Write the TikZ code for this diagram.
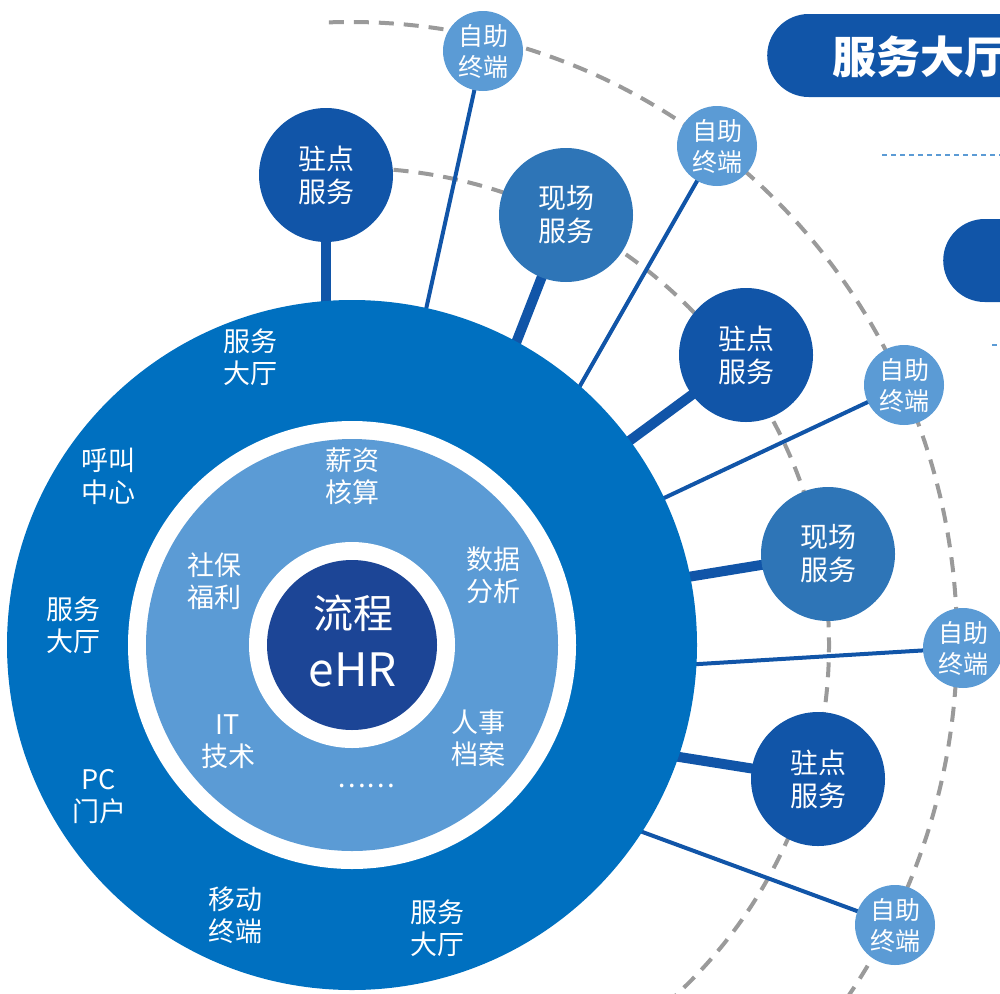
\documentclass[tikz,border=0pt]{standalone}
\usepackage{fontspec}
\setmainfont{Noto Sans CJK SC}
\usetikzlibrary{backgrounds}
\definecolor{cMain}{HTML}{0070C0}
\definecolor{cLight}{HTML}{5B9BD5}
\definecolor{cCore}{HTML}{1C4596}
\definecolor{cDark}{HTML}{1155A8}
\definecolor{cMid}{HTML}{2E75B7}
\definecolor{cGray}{HTML}{9A9A9A}
\begin{document}
\begin{tikzpicture}[x=1pt,y=-1pt,
  lbl/.style={text=white, align=center, font=\fontsize{27}{32}\selectfont, inner sep=0pt},
  disc/.style={circle, inner sep=0pt, draw=none},
  sat/.style={disc, minimum size=134pt, text=white, align=center, font=\fontsize{28}{33}\selectfont},
  zhudian/.style={sat, fill=cDark},
  xianchang/.style={sat, fill=cMid},
  zizhu/.style={disc, fill=cLight, minimum size=80pt, text=white, align=center, font=\fontsize{25}{31}\selectfont},
  thickconn/.style={draw=cDark, line width=10pt},
  thinconn/.style={draw=cDark, line width=4pt},
  arcdash/.style={draw=cGray, line width=4pt, dash pattern=on 15pt off 10pt},
  pill/.style={fill=cDark, rounded corners=41.5pt, minimum height=83pt, inner sep=0pt},
]
\useasboundingbox (0,0) rectangle (1000,993);
\clip (0,0) rectangle (1000,993);

% main rings
\node[disc, fill=cMain, minimum size=690pt] (main) at (352,645) {};
\node[disc, fill=white, minimum size=448pt] (ring1) at (352,645) {};
\node[disc, fill=cLight, minimum size=412pt] (inner) at (352,645) {};
\node[disc, fill=white, minimum size=206pt] (ring2) at (352,645) {};
\node[disc, fill=cCore, minimum size=170pt] (core) at (352,645) {};

\node[text=white, font=\fontsize{40}{40}\selectfont, inner sep=0pt] (liucheng) at (353,613) {流程};
\node[text=white, font=\fontsize{46}{46}\selectfont, inner sep=0pt] (ehr) at (353,670) {eHR};

% inner labels
\node[lbl] (xinzi) at (352,476) {薪资\\核算};
\node[lbl] (shuju) at (493,575) {数据\\分析};
\node[lbl] (renshi) at (478,738) {人事\\档案};
\node[lbl] (dots) at (366,786) {……};
\node[lbl] (it) at (228,742) {IT\\技术};
\node[lbl] (shebao) at (214,581) {社保\\福利};

% outer ring labels
\node[lbl] (dt1) at (250,357) {服务\\大厅};
\node[lbl] (hujiao) at (108,476) {呼叫\\中心};
\node[lbl] (dt2) at (73,625) {服务\\大厅};
\node[lbl] (pc) at (99,797) {PC\\门户};
\node[lbl] (yidong) at (235,915) {移动\\终端};
\node[lbl] (dt3) at (437,928) {服务\\大厅};

% satellites
\node[zhudian] (zd1) at (326,175) {驻点\\服务};
\node[zizhu] (zz1) at (483,51) {自助\\终端};
\node[xianchang] (xc1) at (566,215) {现场\\服务};
\node[zizhu] (zz2) at (717,146) {自助\\终端};
\node[zhudian] (zd2) at (746,355) {驻点\\服务};
\node[zizhu] (zz3) at (904,385) {自助\\终端};
\node[xianchang] (xc2) at (828,554) {现场\\服务};
\node[zizhu] (zz4) at (963,648) {自助\\终端};
\node[zhudian] (zd3) at (818,779) {驻点\\服务};
\node[zizhu] (zz5) at (895,925) {自助\\终端};

% connector targets
\coordinate (t1) at (326,645);
\coordinate (t3) at (398,645);
\coordinate (t4) at (432,645);
\coordinate (t7) at (352,632);
\coordinate (t8) at (352,685);
\coordinate (t9) at (352,705);
\coordinate (t10) at (352,725);

\begin{pgfonlayer}{background}
  \draw[arcdash] (main.center) ++(-88:477) arc[start angle=-88, end angle=60, radius=477];
  \draw[arcdash] (350,642) ++(-92:607 and 620) arc[start angle=-92, end angle=70, x radius=607, y radius=620];
  \draw[thickconn] (zd1.center) -- (t1);
  \draw[thinconn] (zz1.center) -- (main.center);
  \draw[thickconn] (xc1.center) -- (t3);
  \draw[thinconn] (zz2.center) -- (t4);
  \draw[thickconn] (zd2.center) -- (main.center);
  \draw[thinconn] (zz3.center) -- (main.center);
  \draw[thickconn] (xc2.center) -- (t7);
  \draw[thinconn] (zz4.center) -- (t8);
  \draw[thickconn] (zd3.center) -- (t9);
  \draw[thinconn] (zz5.center) -- (t10);
\end{pgfonlayer}

% right-hand panel pieces
\node[pill, anchor=west, minimum width=360pt] (titlepill) at (767,55.5) {};
\node[anchor=west, text=white, inner sep=0pt, font=\bfseries\fontsize{44}{44}\selectfont] (titletext) at (832,57) {服务大厅};
\node[pill, anchor=west, minimum width=200pt] (pill2) at (943,260.5) {};
\coordinate (d1a) at (882,155);
\coordinate (d1b) at (1000,155);
\coordinate (d2a) at (992,345);
\coordinate (d2b) at (1000,345);
\draw[cLight, line width=1.5pt, dash pattern=on 5pt off 4pt] (d1a) -- (d1b);
\draw[cLight, line width=1.5pt, dash pattern=on 5pt off 4pt] (d2a) -- (d2b);
\end{tikzpicture}
\end{document}
